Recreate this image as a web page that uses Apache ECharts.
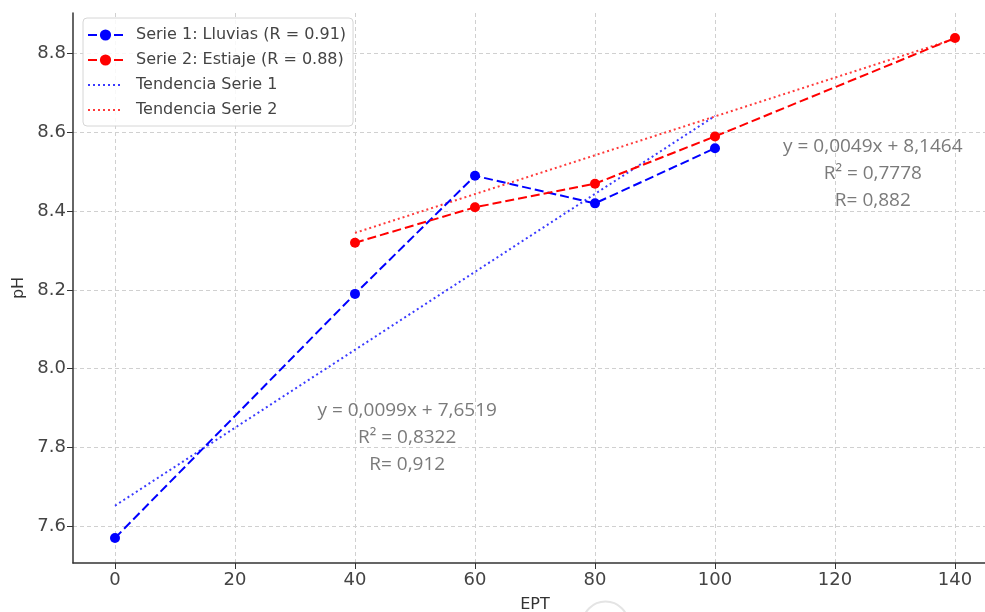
<!DOCTYPE html>
<html lang="es">
<head>
<meta charset="UTF-8">
<title>pH vs EPT</title>
<script src="https://cdn.jsdelivr.net/npm/echarts@6/dist/echarts.min.js"></script>
<style>
  html, body { margin: 0; padding: 0; background: #fff; }
  #chart { width: 985px; height: 612px; }
</style>
</head>
<body>
<div id="chart"></div>
<script>
  // datos
  const xTicks = [0, 20, 40, 60, 80, 100, 120, 140];
  const yTicks = [7.6, 7.8, 8.0, 8.2, 8.4, 8.6, 8.8];

  const ept1 = [0, 40, 60, 80, 100];
  const ph1 = [7.57, 8.19, 8.49, 8.42, 8.56];
  const ept2 = [40, 60, 80, 100, 140];
  const ph2 = [8.32, 8.41, 8.47, 8.59, 8.84];

  // extremos de las rectas de tendencia
  const trend1X = [0, 100];
  const trend1Y = [7.652, 8.642];
  const trend2X = [40, 140];
  const trend2Y = [8.345, 8.838];

  // ecuaciones (posicion en coordenadas de los datos)
  const eq1 = ['y = 0,0099x + 7,6519', 'R² = 0,8322', 'R= 0,912'];
  const eq1Pos = [48.7, 7.826];
  const eq2 = ['y = 0,0049x + 8,1464', 'R² = 0,7778', 'R= 0,882'];
  const eq2Pos = [126.3, 8.495];

  const names = [
    'Serie 1: Lluvias (R = 0.91)',
    'Serie 2: Estiaje (R = 0.88)',
    'Tendencia Serie 1',
    'Tendencia Serie 2'
  ];

  const zip = (xs, ys) => xs.map((x, i) => [x, ys[i]]);

  const gridLine = { show: true, lineStyle: { color: '#d0d0d0', type: [4, 3], width: 1 } };
  const axisLine = { show: true, onZero: false, lineStyle: { color: '#333', width: 1.5 } };
  const tickFont = { fontFamily: 'DejaVu Sans', fontSize: 18, color: '#444' };

  const chart = echarts.init(document.getElementById('chart'));

  chart.setOption({
    animation: false,
    backgroundColor: '#fff',
    grid: { left: 73, right: -12, top: 13, bottom: 49, containLabel: false, outerBoundsMode: 'none' },
    legend: {
      data: [
        { name: names[0] },
        { name: names[1] },
        { name: names[2], itemStyle: { opacity: 0 } },
        { name: names[3], itemStyle: { opacity: 0 } }
      ],
      orient: 'vertical',
      left: 83,
      top: 18,
      padding: [9, 7, 8, 4],
      itemWidth: 35,
      itemHeight: 14,
      itemGap: 9,
      backgroundColor: 'rgba(255,255,255,0.85)',
      borderColor: '#d6d6d6',
      borderWidth: 1,
      borderRadius: 4,
      textStyle: { fontFamily: 'DejaVu Sans', fontSize: 16, color: '#444', padding: [0, 0, 0, 8] }
    },
    xAxis: {
      type: 'value',
      min: -7,
      max: 147,
      name: 'EPT',
      nameLocation: 'middle',
      nameGap: 34,
      nameTextStyle: { fontFamily: 'DejaVu Sans', fontSize: 16, color: '#333' },
      axisLine: axisLine,
      axisTick: { show: true, inside: false, length: 6, customValues: xTicks, lineStyle: { color: '#333' } },
      axisLabel: Object.assign({ customValues: xTicks, margin: 8 }, tickFont),
      splitLine: gridLine
    },
    yAxis: {
      type: 'value',
      min: 7.5065,
      max: 8.9035,
      name: 'pH',
      nameLocation: 'middle',
      nameGap: 43,
      nameRotate: 90,
      nameTextStyle: { fontFamily: 'DejaVu Sans', fontSize: 16, color: '#333' },
      axisLine: axisLine,
      axisTick: { show: true, inside: false, length: 6, customValues: yTicks, lineStyle: { color: '#333' } },
      axisLabel: Object.assign({
        customValues: yTicks,
        margin: 7,
        formatter: v => v.toFixed(1)
      }, tickFont),
      splitLine: gridLine
    },
    series: [
      {
        name: names[0],
        type: 'line',
        data: zip(ept1, ph1),
        symbol: 'circle',
        symbolSize: 10,
        itemStyle: { color: '#0000ff' },
        lineStyle: { color: '#0000ff', width: 2, type: [9, 4] },
        z: 4
      },
      {
        name: names[1],
        type: 'line',
        data: zip(ept2, ph2),
        symbol: 'circle',
        symbolSize: 10,
        itemStyle: { color: '#ff0000' },
        lineStyle: { color: '#ff0000', width: 2, type: [9, 4] },
        z: 4
      },
      {
        name: names[2],
        type: 'line',
        data: zip(trend1X, trend1Y),
        symbol: 'none',
        itemStyle: { color: '#3a3aff' },
        lineStyle: { color: '#3a3aff', width: 2, type: [2, 3] },
        z: 3
      },
      {
        name: names[3],
        type: 'line',
        data: zip(trend2X, trend2Y),
        symbol: 'none',
        itemStyle: { color: '#ff3a3a' },
        lineStyle: { color: '#ff3a3a', width: 2, type: [2, 3] },
        z: 3
      },
      {
        name: 'ecuaciones',
        type: 'scatter',
        symbolSize: 0,
        silent: true,
        data: [
          { value: eq1Pos, txt: eq1.join('\n') },
          { value: eq2Pos, txt: eq2.join('\n') }
        ],
        label: {
          show: true,
          position: 'inside',
          formatter: p => p.data.txt,
          fontFamily: 'Open Sans',
          fontSize: 19,
          lineHeight: 27,
          align: 'center',
          color: '#595959'
        },
        z: 5
      }
    ],
    graphic: [
      {
        type: 'circle',
        left: 580,
        top: 599,
        shape: { r: 23 },
        style: { fill: 'none', stroke: '#e4e4e4', lineWidth: 2 }
      }
    ]
  });
</script>
</body>
</html>
